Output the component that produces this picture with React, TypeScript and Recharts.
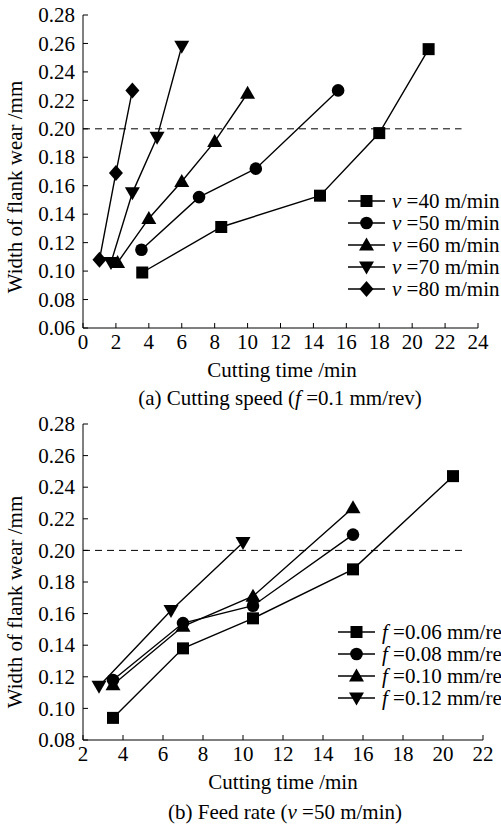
import React from 'react';
import { ScatterChart, Scatter, XAxis, YAxis, ReferenceLine } from 'recharts';

const FONT = '"Liberation Serif", "Times New Roman", serif';
const FS = 21;

// Panel (a): cutting speed
const speedLabels = ['=40 m/min', '=50 m/min', '=60 m/min', '=70 m/min', '=80 m/min'];
const v40 = [
  { x: 3.6, y: 0.099 }, { x: 8.4, y: 0.131 }, { x: 14.4, y: 0.153 }, { x: 18.0, y: 0.197 }, { x: 21.0, y: 0.256 },
];
const v50 = [
  { x: 3.55, y: 0.115 }, { x: 7.05, y: 0.152 }, { x: 10.5, y: 0.172 }, { x: 15.5, y: 0.227 },
];
const v60 = [
  { x: 2.1, y: 0.106 }, { x: 4.0, y: 0.137 }, { x: 6.0, y: 0.163 }, { x: 8.0, y: 0.191 }, { x: 10.0, y: 0.225 },
];
const v70 = [
  { x: 1.7, y: 0.106 }, { x: 3.0, y: 0.155 }, { x: 4.5, y: 0.194 }, { x: 6.0, y: 0.258 },
];
const v80 = [
  { x: 1.0, y: 0.108 }, { x: 2.0, y: 0.169 }, { x: 3.0, y: 0.227 },
];
const xTicksA = [0, 2, 4, 6, 8, 10, 12, 14, 16, 18, 20, 22, 24];
const yTicksA = [0.06, 0.08, 0.1, 0.12, 0.14, 0.16, 0.18, 0.2, 0.22, 0.24, 0.26, 0.28];

// Panel (b): feed rate
const feedLabels = ['=0.06 mm/rev', '=0.08 mm/rev', '=0.10 mm/rev', '=0.12 mm/rev'];
const f06 = [
  { x: 3.5, y: 0.094 }, { x: 7.0, y: 0.138 }, { x: 10.5, y: 0.157 }, { x: 15.5, y: 0.188 }, { x: 20.5, y: 0.247 },
];
const f08 = [
  { x: 3.5, y: 0.118 }, { x: 7.0, y: 0.154 }, { x: 10.5, y: 0.165 }, { x: 15.5, y: 0.21 },
];
const f10 = [
  { x: 3.5, y: 0.115 }, { x: 7.0, y: 0.152 }, { x: 10.5, y: 0.171 }, { x: 15.5, y: 0.227 },
];
const f12 = [
  { x: 2.8, y: 0.114 }, { x: 6.4, y: 0.162 }, { x: 10.0, y: 0.205 },
];
const xTicksB = [2, 4, 6, 8, 10, 12, 14, 16, 18, 20, 22];
const yTicksB = [0.08, 0.1, 0.12, 0.14, 0.16, 0.18, 0.2, 0.22, 0.24, 0.26, 0.28];

type MarkerKind = 'square' | 'circle' | 'triangle' | 'down' | 'diamond';

const markerPath = (kind: MarkerKind, cx: number, cy: number) => {
  switch (kind) {
    case 'square':
      return <rect x={cx - 6} y={cy - 6} width={12} height={12} fill="#000" />;
    case 'circle':
      return <circle cx={cx} cy={cy} r={6.3} fill="#000" />;
    case 'triangle':
      return <polygon points={`${cx},${cy - 7.5} ${cx + 7.5},${cy + 5.5} ${cx - 7.5},${cy + 5.5}`} fill="#000" />;
    case 'down':
      return <polygon points={`${cx},${cy + 7.5} ${cx + 7.5},${cy - 5.5} ${cx - 7.5},${cy - 5.5}`} fill="#000" />;
    case 'diamond':
      return <polygon points={`${cx},${cy - 8} ${cx + 7},${cy} ${cx},${cy + 8} ${cx - 7},${cy}`} fill="#000" />;
  }
};

const makeShape = (kind: MarkerKind) => (props: any) => {
  const { cx, cy } = props;
  if (cx == null || cy == null) return <g />;
  return <g>{markerPath(kind, cx, cy)}</g>;
};

const M = 6;
const XTick = (props: any) => {
  const { x, y, payload } = props;
  const ay = y - M;
  return (
    <g>
      <line x1={x} x2={x} y1={ay} y2={ay - 5} stroke="#000" strokeWidth={1} />
      <text x={x} y={y} dy="0.72em" textAnchor="middle" fontFamily={FONT} fontSize={FS} fill="#000">
        {payload.value}
      </text>
    </g>
  );
};
const YM = 8;
const YTick = (props: any) => {
  const { x, y, payload } = props;
  const ax = x + YM;
  return (
    <g>
      <line x1={ax} x2={ax + 5} y1={y} y2={y} stroke="#000" strokeWidth={1} />
      <text x={x} y={y} dy="0.34em" textAnchor="end" fontFamily={FONT} fontSize={FS} fill="#000">
        {Number(payload.value).toFixed(2)}
      </text>
    </g>
  );
};

const lineStyle = { stroke: '#000', strokeWidth: 1.4 };

const LegendBlock = ({ items, left, top, sym }: { items: { kind: MarkerKind; label: string }[]; left: number; top: number; sym: string }) => (
  <div style={{ position: 'absolute', left, top, fontFamily: FONT, fontSize: FS, whiteSpace: 'nowrap', lineHeight: '22px' }}>
    {items.map((it, i) => (
      <div key={i} style={{ display: 'flex', alignItems: 'center', height: 22 }}>
        <svg width={40} height={22} style={{ display: 'block' }}>
          <line x1={0} x2={37} y1={11} y2={11} stroke="#000" strokeWidth={1.4} />
          {markerPath(it.kind, 18.5, 11)}
        </svg>
        <span style={{ marginLeft: 4 }}>
          <i>{sym}</i> {it.label}
        </span>
      </div>
    ))}
  </div>
);

const Text = ({ children, cx, cy, rotate }: any) => (
  <div
    style={{
      position: 'absolute',
      left: cx - 200,
      top: cy - 11,
      width: 400,
      height: 22,
      textAlign: 'center',
      fontFamily: FONT,
      fontSize: FS,
      whiteSpace: 'nowrap',
      lineHeight: '22px',
      transform: rotate ? 'rotate(-90deg)' : undefined,
      transformOrigin: 'center center',
    }}
  >
    {children}
  </div>
);

const kindsA: MarkerKind[] = ['square', 'circle', 'triangle', 'down', 'diamond'];
const kindsB: MarkerKind[] = ['square', 'circle', 'triangle', 'down'];

export default function App() {
  const seriesA = [v40, v50, v60, v70, v80];
  const seriesB = [f06, f08, f10, f12];
  return (
    <div style={{ position: 'absolute', left: 0, top: 0, width: 501, height: 829, overflow: 'hidden', background: '#fff' }}>
      <div style={{ position: 'absolute', left: 0, top: 0 }}>
        <ScatterChart width={501} height={358} margin={{ top: 15, right: 23, bottom: 0, left: 0 }}>
          <XAxis type="number" dataKey="x" domain={[0, 24]} ticks={xTicksA} interval={0} height={30}
            tickSize={0} tickMargin={M} tick={<XTick />} axisLine={{ stroke: '#000', strokeWidth: 1 }} tickLine={false} />
          <YAxis type="number" dataKey="y" domain={[0.06, 0.28]} ticks={yTicksA} interval={0} width={83}
            tickSize={0} tickMargin={YM} tick={<YTick />} axisLine={{ stroke: '#000', strokeWidth: 1 }} tickLine={false} />
          <ReferenceLine segment={[{ x: 0, y: 0.2 }, { x: 23, y: 0.2 }]} stroke="#000" strokeWidth={1} strokeDasharray="7 5" />
          {seriesA.map((d, i) => (
            <Scatter key={i} data={d} fill="#000" line={lineStyle} lineType="joint" shape={makeShape(kindsA[i])} isAnimationActive={false} />
          ))}
        </ScatterChart>
      </div>
      <LegendBlock left={348} top={190} sym="v" items={speedLabels.map((l, i) => ({ kind: kindsA[i], label: l }))} />
      <Text cx={282} cy={370}>Cutting time /min</Text>
      <Text cx={280} cy={398}>(a) Cutting speed (<i>f</i> =0.1 mm/rev)</Text>
      <Text cx={15} cy={187} rotate>Width of flank wear /mm</Text>

      <div style={{ position: 'absolute', left: 0, top: 409 }}>
        <ScatterChart width={501} height={361} margin={{ top: 15, right: 18, bottom: 0, left: 0 }}>
          <XAxis type="number" dataKey="x" domain={[2, 22]} ticks={xTicksB} interval={0} height={30}
            tickSize={0} tickMargin={M} tick={<XTick />} axisLine={{ stroke: '#000', strokeWidth: 1 }} tickLine={false} />
          <YAxis type="number" dataKey="y" domain={[0.08, 0.28]} ticks={yTicksB} interval={0} width={83}
            tickSize={0} tickMargin={YM} tick={<YTick />} axisLine={{ stroke: '#000', strokeWidth: 1 }} tickLine={false} />
          <ReferenceLine segment={[{ x: 2, y: 0.2 }, { x: 21.1, y: 0.2 }]} stroke="#000" strokeWidth={1} strokeDasharray="7 5" />
          {seriesB.map((d, i) => (
            <Scatter key={i} data={d} fill="#000" line={lineStyle} lineType="joint" shape={makeShape(kindsB[i])} isAnimationActive={false} />
          ))}
        </ScatterChart>
      </div>
      <LegendBlock left={338} top={621} sym="f" items={feedLabels.map((l, i) => ({ kind: kindsB[i], label: l }))} />
      <Text cx={283} cy={782}>Cutting time /min</Text>
      <Text cx={285} cy={812}>(b) Feed rate (<i>v</i> =50 m/min)</Text>
      <Text cx={15} cy={602} rotate>Width of flank wear /mm</Text>
    </div>
  );
}
